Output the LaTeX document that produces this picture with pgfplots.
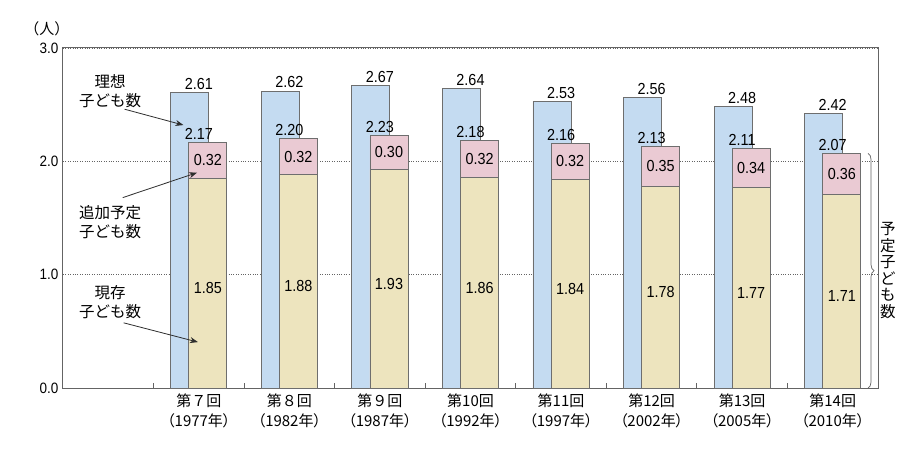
\documentclass[border=0pt]{standalone}
\usepackage{fontspec}
\setmainfont[FakeStretch=0.9]{Liberation Sans}
\newfontfamily\jp{Noto Sans CJK JP}
\newfontfamily\jpp[RawFeature=+palt]{Noto Sans CJK JP}
\usepackage{pgfplots}
\pgfplotsset{compat=1.18}
\usepackage{pgfplotstable}
\usetikzlibrary{arrows.meta,decorations.pathreplacing}
\definecolor{cblue}{RGB}{196,219,241}
\definecolor{cpink}{RGB}{234,202,211}
\definecolor{cbeige}{RGB}{237,228,190}
\definecolor{cedge}{RGB}{110,110,110}
\definecolor{caxis}{RGB}{100,100,100}
\definecolor{carrow}{RGB}{45,45,45}
\pgfplotstableread{
x ideal total added current
1 2.61 2.17 0.32 1.85
2 2.62 2.20 0.32 1.88
3 2.67 2.23 0.30 1.93
4 2.64 2.18 0.32 1.86
5 2.53 2.16 0.32 1.84
6 2.56 2.13 0.35 1.78
7 2.48 2.11 0.34 1.77
8 2.42 2.07 0.36 1.71
}\data
\newcommand{\lab}{\fontsize{16}{18}\selectfont}
\newcommand{\jpf}{\jp\fontsize{15.5}{19}\selectfont}
\newcommand{\val}{\pgfmathprintnumber[fixed,precision=2,zerofill,assume math mode=true]{\pgfplotspointmeta}}
\begin{document}
\begin{tikzpicture}
\path[use as bounding box] (-63pt,-73pt) rectangle (855pt,388pt);
\begin{axis}[
  at={(0,0)}, anchor=south west,
  scale only axis, width=815pt, height=340pt,
  xmin=-0.5, xmax=8.5, ymin=0, ymax=3,
  ytick={0,1,2,3},
  yticklabel style={/pgf/number format/fixed, /pgf/number format/precision=1, /pgf/number format/zerofill, /pgf/number format/assume math mode=true, font=\fontsize{15}{18}\selectfont, xshift=-1pt},
  xtick={1,...,8},
  xticklabels={
    {{\jp 第７回}\\（1977年）},{{\jp 第８回}\\（1982年）},{{\jp 第９回}\\（1987年）},{{\jp 第10回}\\（1992年）},
    {{\jp 第11回}\\（1997年）},{{\jp 第12回}\\（2002年）},{{\jp 第13回}\\（2005年）},{{\jp 第14回}\\（2010年）}},
  xticklabel style={align=center, font=\jpp\fontsize{15}{20}\selectfont, yshift=-2pt},
  major tick length=0pt,
  minor xtick={0.5,1.5,...,7.5},
  minor tick length=5pt,
  minor tick style={caxis, line width=0.8pt},
  tick pos=left,
  ymajorgrids,
  grid style={dotted, caxis, line width=0.9pt},
  axis line style={caxis, line width=1pt},
  clip=false,
]
\addplot[ybar, bar width=0.42, bar shift=-0.1, fill=cblue, draw=cedge, line width=0.9pt,
  nodes near coords={\val},
  nodes near coords style={font=\lab, anchor=south, inner sep=2.5pt, text=black}]
  table[x=x,y=ideal]{\data};
\addplot[ybar, bar width=0.42, bar shift=0.1, fill=cpink, draw=cedge, line width=0.9pt,
  nodes near coords={\val},
  nodes near coords style={font=\lab, anchor=south, inner sep=2.5pt, text=black}]
  table[x=x,y=total]{\data};
\addplot[ybar, bar width=0.42, bar shift=0.1, fill=cbeige, draw=cedge, line width=0.9pt]
  table[x=x,y=current]{\data};
\addplot[only marks, mark=none, point meta=explicit,
  nodes near coords={\val},
  nodes near coords style={font=\lab, anchor=center, text=black}]
  table[x expr=\thisrow{x}+0.1, y expr=\thisrow{current}+\thisrow{added}/2, meta=added]{\data};
\addplot[only marks, mark=none, point meta=explicit,
  nodes near coords={\val},
  nodes near coords style={font=\lab, anchor=center, text=black, yshift=-5pt}]
  table[x expr=\thisrow{x}+0.1, y expr=\thisrow{current}/2, meta=current]{\data};
% annotations
\node[font=\jpf, align=center] at (axis cs:0.02,2.62) {理想\\子ども数};
\node[font=\jpf, align=center] at (axis cs:0.02,1.465) {追加予定\\子ども数};
\node[font=\jpf, align=center] at (axis cs:0.02,0.76) {現存\\子ども数};
\draw[carrow, line width=0.8pt, -{Stealth[length=8pt,width=6pt]}] (axis cs:0.18,2.46) -- (axis cs:0.83,2.32);
\draw[carrow, line width=0.8pt, -{Stealth[length=8pt,width=6pt]}] (axis cs:0.16,1.68) -- (axis cs:0.98,1.90);
\draw[carrow, line width=0.8pt, -{Stealth[length=8pt,width=6pt]}] (axis cs:0.17,0.575) -- (axis cs:0.99,0.405);
\node[font=\jp\fontsize{15}{18}\selectfont] at (axis cs:-0.677,3.168) {（人）};
\draw[caxis, line width=0.7pt, decorate, decoration={brace, amplitude=6pt}] (axis cs:8.39,2.07) -- (axis cs:8.39,0);
\node[font=\jp\fontsize{15.5}{16.5}\selectfont, align=center] at (axis cs:8.61,1.035) {予\\定\\子\\ど\\も\\数};
\end{axis}
\end{tikzpicture}
\end{document}
